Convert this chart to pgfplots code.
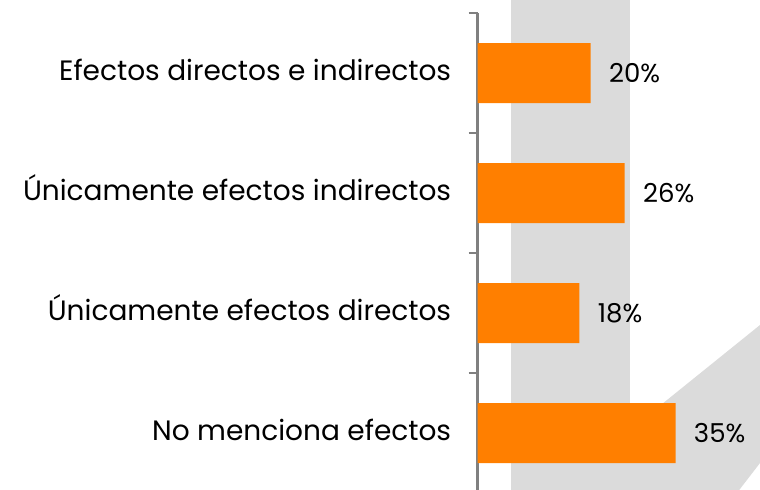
\documentclass[border=0pt]{standalone}
\usepackage{pgfplots}
\pgfplotsset{compat=1.18}
\usepackage{fontspec}
\setmainfont{Poppins}
\definecolor{barOrange}{HTML}{FF7F00}
\definecolor{bandGray}{HTML}{DBDBDB}
\definecolor{axisGray}{HTML}{808080}

\begin{document}
\begin{tikzpicture}
% background decoration (1px = 0.5pt, origin top-left)
\fill[bandGray] (255.5pt,10pt) rectangle (315pt,-250pt);
\fill[bandGray] (380pt,-162.5pt) -- (380pt,-231.5pt) -- (365.75pt,-250pt) -- (271.5pt,-250pt) -- cycle;
\begin{axis}[
  at={(238.75pt,-6.5pt)}, anchor=north west,
  scale only axis,
  width=141.5pt, height=240pt,
  xbar, bar width=30pt, bar shift=0pt,
  xmin=0, xmax=50,
  ymin=0.5, ymax=4.5, y dir=reverse,
  axis x line=none,
  axis y line*=left,
  axis line style={axisGray, line width=1.1pt, -},
  ytick={1,2,3,4},
  yticklabels={Efectos directos e indirectos, Únicamente efectos indirectos,
               Únicamente efectos directos, No menciona efectos},
  major tick length=0pt,
  yticklabel style={anchor=east, inner sep=0pt, xshift=-13pt,
                    font=\fontsize{14}{16}\selectfont, text height=0.7em, text depth=0pt},
  extra y ticks={0.5,1.5,2.5,3.5,4.5},
  extra y tick labels={},
  extra y tick style={major tick length=4.5pt, tick align=outside,
                      tick style={axisGray, line width=1.1pt}},
  /pgf/number format/assume math mode=true,
  nodes near coords={\pgfmathprintnumber{\pgfplotspointmeta}\%},
  nodes near coords style={anchor=west, inner sep=0pt, xshift=9pt,
                           font=\fontsize{13}{16}\selectfont, text=black},
  clip=false,
]
\addplot[fill=barOrange, draw=none] coordinates {(20,1) (26,2) (18,3) (35,4)};
\end{axis}
\pgfresetboundingbox
\path (0,0) rectangle (380pt,-244.5pt);
\end{tikzpicture}
\end{document}
